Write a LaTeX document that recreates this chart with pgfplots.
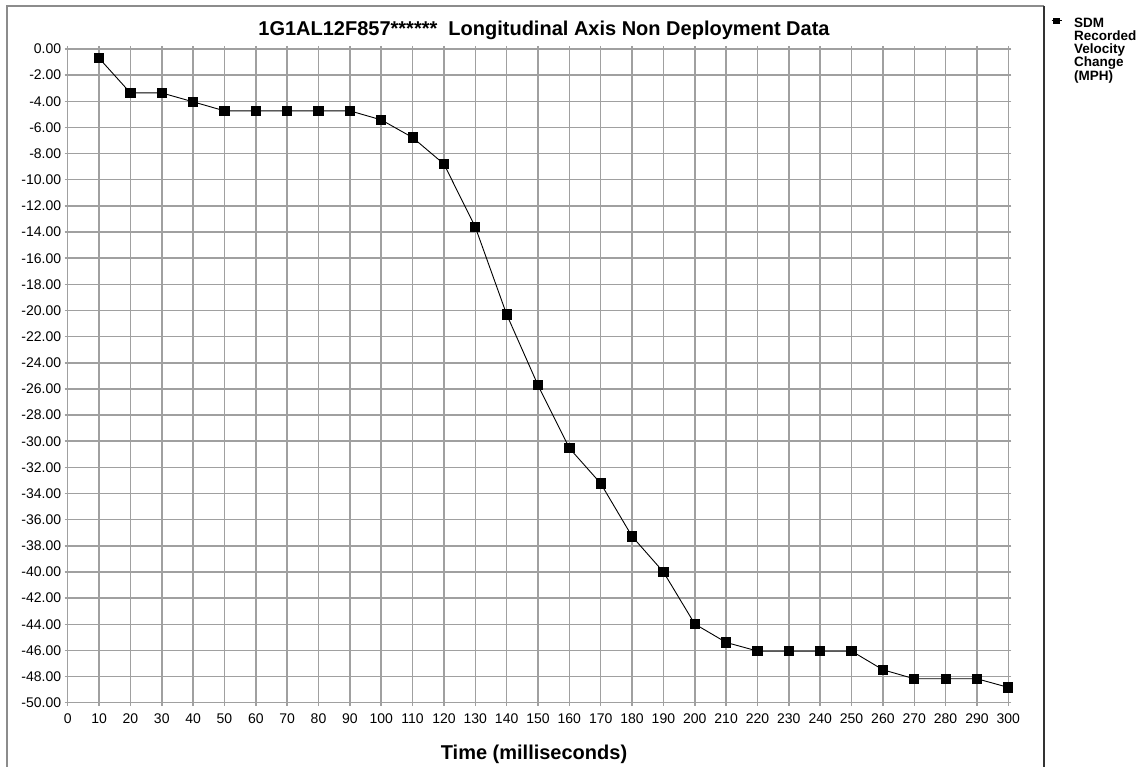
\documentclass[border=0pt]{standalone}
\usepackage{fontspec}
\setmainfont{Liberation Sans}
\usepackage{pgfplots}
\pgfplotsset{compat=1.18}
\definecolor{gridgray}{HTML}{A0A0A0}
\definecolor{framegray}{HTML}{8C8C8C}
\begin{document}
\begin{tikzpicture}
\useasboundingbox (0pt,0pt) rectangle (1140pt,766pt);
% chart frame
\draw[framegray, line width=1.5pt] (7pt,-5pt) -- (7pt,760pt) -- (1044pt,760pt);
\draw[black!80, line width=1.5pt] (1044pt,760pt) -- (1044pt,-5pt);
\begin{axis}[
	at={(67.7pt,63.3pt)},
	anchor=south west,
	scale only axis,
	width=940.6pt,
	height=653.7pt,
	xmin=0, xmax=300,
	ymin=-50, ymax=0,
	xtick={0,10,...,300},
	ytick={-50,-48,...,0},
	grid=major,
	major grid style={gridgray, line width=1.5pt},
	axis line style={gridgray, line width=1.5pt},
	tick style={gridgray, line width=1.5pt},
	tick align=outside,
	major tick length=3pt,
	/pgf/number format/assume math mode=true,
	ticklabel style={font=\fontsize{14}{16}\selectfont},
	xticklabel style={yshift=-4pt},
	yticklabel style={/pgf/number format/.cd, fixed, fixed zerofill, precision=2},
	legend style={at={(1.0454,1.0477)}, anchor=north west, draw=none, fill=none,
		font=\bfseries\fontsize{13.5}{13.3}\selectfont, inner sep=0pt,
		nodes={inner sep=1pt}, column sep=11pt},
	legend cell align=left,
	legend image code/.code={
		\draw[#1, mark size=2.8pt, mark repeat=2, mark phase=2] plot coordinates {(0pt,0pt) (5pt,0pt) (10pt,0pt)};
	},
	clip=false,
]
\addplot[black, line width=0.9pt, mark=square*, mark size=4.6pt,
	mark options={solid, fill=black}] coordinates {
	(10,-0.70) (20,-3.36) (30,-3.36) (40,-4.04) (50,-4.73)
	(60,-4.73) (70,-4.73) (80,-4.73) (90,-4.73) (100,-5.42)
	(110,-6.77) (120,-8.80) (130,-13.62) (140,-20.30) (150,-25.72)
	(160,-30.53) (170,-33.23) (180,-37.28) (190,-40.00) (200,-43.98)
	(210,-45.39) (220,-46.05) (230,-46.05) (240,-46.05) (250,-46.05)
	(260,-47.48) (270,-48.17) (280,-48.17) (290,-48.17) (300,-48.83)
};
\addlegendentry{\raisebox{-7pt}{\smash{\parbox[t]{70pt}{\raggedright SDM\\Recorded\\Velocity\\Change\\(MPH)}}}}
\end{axis}
\node[anchor=base, font=\bfseries\fontsize{20}{24}\selectfont] at (544pt,730.3pt)
	{1G1AL12F857******\ \ Longitudinal Axis Non Deployment Data};
\node[anchor=base, font=\bfseries\fontsize{20}{24}\selectfont] at (534pt,7pt)
	{Time (milliseconds)};
\end{tikzpicture}
\end{document}
